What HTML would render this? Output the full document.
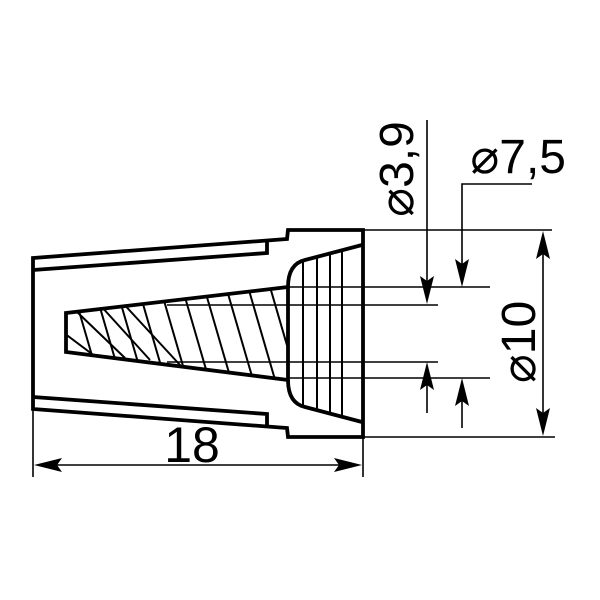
<!DOCTYPE html>
<html><head><meta charset="utf-8"><style>
html,body{margin:0;padding:0;background:#fff}
svg{display:block}
text{font-family:"Liberation Sans",sans-serif;fill:#000}
</style></head><body>
<svg width="600" height="600" viewBox="0 0 600 600" xmlns="http://www.w3.org/2000/svg">
<defs>
<clipPath id="cone"><polygon points="66,313 288,287 288,380 66,352"/></clipPath>
<clipPath id="flare"><path d="M288,287 Q288,264 305,260 L362,245 L362,422 L305,407 Q288,403 288,380 Z"/></clipPath>
</defs>
<g fill="none" stroke="#000" stroke-width="3.8" stroke-linejoin="miter">
<path d="M33,258 L287,239 L288,230 L363,230 L363,437 L288,437 L287,428 L33,409 Z"/>
<path d="M33,270 L267,253 L267,241"/>
<path d="M33,397 L267,414 L267,426"/>
<polygon points="66,313 288,287 288,380 66,352"/>
<path d="M288,287 Q288,264 305,260 L362,245"/>
<path d="M288,380 Q288,403 305,407 L362,422"/>
</g>
<g stroke="#000" stroke-width="2" clip-path="url(#cone)">
<line x1="70" y1="280" x2="102" y2="390"/>
<line x1="92" y1="280" x2="124" y2="390"/>
<line x1="114" y1="280" x2="146" y2="390"/>
<line x1="136" y1="280" x2="168" y2="390"/>
<line x1="158" y1="280" x2="190" y2="390"/>
<line x1="180" y1="280" x2="212" y2="390"/>
<line x1="202" y1="280" x2="234" y2="390"/>
<line x1="224" y1="280" x2="256" y2="390"/>
<line x1="246" y1="280" x2="278" y2="390"/>
<line x1="268" y1="280" x2="300" y2="390"/>
<line x1="60" y1="330" x2="96" y2="357"/>
<line x1="75" y1="310" x2="125" y2="358"/>
<line x1="100" y1="305" x2="150" y2="360"/>
<line x1="120" y1="300" x2="180" y2="365"/>
</g>
<g stroke="#000" stroke-width="2" clip-path="url(#flare)">
<line x1="303" y1="240" x2="303" y2="430"/>
<line x1="317" y1="240" x2="317" y2="430"/>
<line x1="330" y1="240" x2="330" y2="430"/>
<line x1="342" y1="240" x2="342" y2="430"/>
</g>
<g stroke="#000" stroke-width="1.6" fill="none">
<line x1="363" y1="230" x2="552" y2="230"/>
<line x1="363" y1="437" x2="555" y2="437"/>
<line x1="288" y1="287" x2="490" y2="287"/>
<line x1="288" y1="378" x2="490" y2="378"/>
<line x1="167" y1="305" x2="438" y2="305"/>
<line x1="167" y1="362" x2="438" y2="362"/>
<line x1="33" y1="409" x2="33" y2="477"/>
<line x1="363" y1="437" x2="363" y2="477"/>
<line x1="427" y1="120" x2="427" y2="300"/>
<line x1="427" y1="413" x2="427" y2="366"/>
<polyline points="532,184 462,184 462,283"/>
<line x1="462" y1="428" x2="462" y2="382"/>
<line x1="543" y1="235" x2="543" y2="432"/>
<line x1="38" y1="465" x2="358" y2="465"/>
</g>
<g fill="#000">
<polygon points="427,304 420,276 427,281 434,276"/>
<polygon points="427,362 420,390 427,385 434,390"/>
<polygon points="462,287 455,259 462,264 469,259"/>
<polygon points="462,378 455,406 462,401 469,406"/>
<polygon points="543,231 536,259 543,254 550,259"/>
<polygon points="543,436 536,408 543,413 550,408"/>
<polygon points="34,465 62,458 57,465 62,472"/>
<polygon points="362,465 334,458 339,465 334,472"/>
</g>
<text x="192" y="462" font-size="50" text-anchor="middle">18</text>
<text x="566" y="173" font-size="48" text-anchor="end">⌀7,5</text>
<text transform="translate(413,169) rotate(-90)" font-size="48" text-anchor="middle">⌀3,9</text>
<text transform="translate(535,342) rotate(-90)" font-size="48" text-anchor="middle">⌀10</text>
</svg>
</body></html>
